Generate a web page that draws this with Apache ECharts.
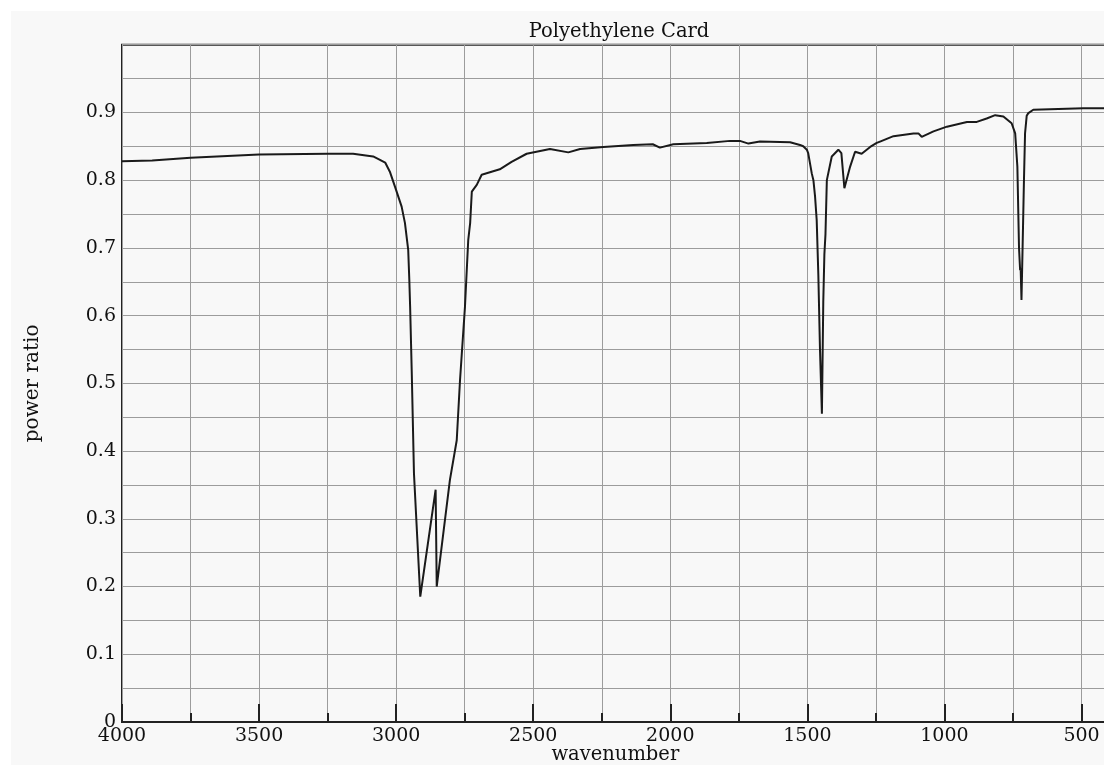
<!DOCTYPE html>
<html><head><meta charset="utf-8">
<script src="https://cdn.jsdelivr.net/npm/echarts@6/dist/echarts.min.js"></script>
<style>
html,body{margin:0;padding:0;background:#fff;width:1104px;height:765px;overflow:hidden}
#box{position:absolute;left:11px;top:11px;width:1093px;height:754px;background:#f8f8f8;overflow:hidden}
#c{width:1300px;height:754px}
</style></head><body>
<div id="box"><div id="c"></div></div>
<script>
const title = 'Polyethylene Card';
const xName = 'wavenumber';
const yName = 'power ratio';
const wavenumber = [4000,3890,3750,3500,3250,3157,3084,3059,3040,3023,3004,2980,2968,2956,2952,2949,2943,2935,2912,2856,2852,2804,2779,2767,2749,2737,2730,2724,2706,2688,2622,2579,2524,2439,2372,2329,2244,2135,2064,2038,1989,1867,1782,1746,1715,1673,1563,1527,1515,1502,1497,1484,1478,1472,1466,1460,1454,1447,1442,1438,1434,1429,1411,1387,1376,1365,1344,1326,1302,1271,1247,1235,1186,1113,1095,1083,1040,991,918,882,846,815,785,755,742,734,728,724,722,719,715,710,706,700,694,676,493,400];
const powerRatio = [0.828,0.829,0.833,0.838,0.839,0.839,0.835,0.830,0.826,0.8125,0.790,0.761,0.737,0.697,0.653,0.613,0.515,0.367,0.185,0.343,0.200,0.357,0.416,0.505,0.613,0.712,0.737,0.783,0.793,0.808,0.816,0.827,0.839,0.846,0.841,0.846,0.849,0.852,0.853,0.848,0.853,0.855,0.858,0.858,0.854,0.857,0.856,0.852,0.850,0.845,0.840,0.810,0.800,0.776,0.741,0.66,0.55,0.455,0.62,0.69,0.72,0.80,0.835,0.845,0.84,0.788,0.820,0.842,0.839,0.849,0.855,0.857,0.865,0.869,0.869,0.864,0.872,0.879,0.886,0.886,0.891,0.896,0.894,0.884,0.869,0.820,0.70,0.667,0.67,0.623,0.70,0.80,0.869,0.895,0.899,0.904,0.906,0.906];

const font = 'DejaVu Serif';
const chart = echarts.init(document.getElementById('c'), null, {renderer:'canvas'});
const gridStyle = {color:'#9c9c9c', width:1};
chart.setOption({
  animation:false,
  title:{text:title, left:603, top:6, textAlign:'center',
    textStyle:{fontFamily:font, fontWeight:'normal', fontSize:19.5, color:'#111'}},
  grid:{left:111, top:33.7, height:677.3, width:1096.6, outerBoundsMode:'none', containLabel:false,
    show:true, borderColor:'#222', borderWidth:2, backgroundColor:'transparent'},
  xAxis:{type:'value', inverse:true, min:0, max:4000, interval:500,
    name:xName, nameLocation:'middle', nameGap:23, nameMoveOverlap:false,
    nameTextStyle:{fontFamily:font, fontSize:19.5, color:'#111', padding:[0,110,0,0]},
    axisLine:{show:true, lineStyle:{color:'#222', width:2}},
    axisTick:{show:true, inside:true, length:18, lineStyle:{color:'#222', width:2}},
    minorTick:{show:true, splitNumber:2, length:9, lineStyle:{color:'#222', width:2}},
    splitLine:{show:true, lineStyle:gridStyle},
    minorSplitLine:{show:true, lineStyle:gridStyle},
    axisLabel:{fontFamily:font, fontSize:19, color:'#111', margin:5,
      formatter:v=> (v>=500 ? String(v) : '')}
  },
  yAxis:{type:'value', min:0, max:1, interval:0.1,
    name:yName, nameLocation:'middle', nameGap:79, nameRotate:90, nameMoveOverlap:false,
    nameTextStyle:{fontFamily:font, fontSize:20, color:'#111'},
    axisLine:{show:true, lineStyle:{color:'#222', width:2}},
    axisTick:{show:true, inside:true, length:18, lineStyle:{color:'#222', width:2}},
    minorTick:{show:true, splitNumber:2, length:10, lineStyle:{color:'#222', width:2}},
    splitLine:{show:true, lineStyle:gridStyle},
    minorSplitLine:{show:true, lineStyle:gridStyle},
    axisLabel:{fontFamily:font, fontSize:19, color:'#111', margin:6,
      formatter:v=> (v>=0.999 ? '' : (Math.round(v*10)/10).toString())}
  },
  series:[{type:'line', showSymbol:false, symbol:'none', smooth:false,
    lineStyle:{color:'#1a1a1a', width:2},
    data: wavenumber.map((w,i)=>[w, powerRatio[i]])}]
});
</script>
</body></html>
